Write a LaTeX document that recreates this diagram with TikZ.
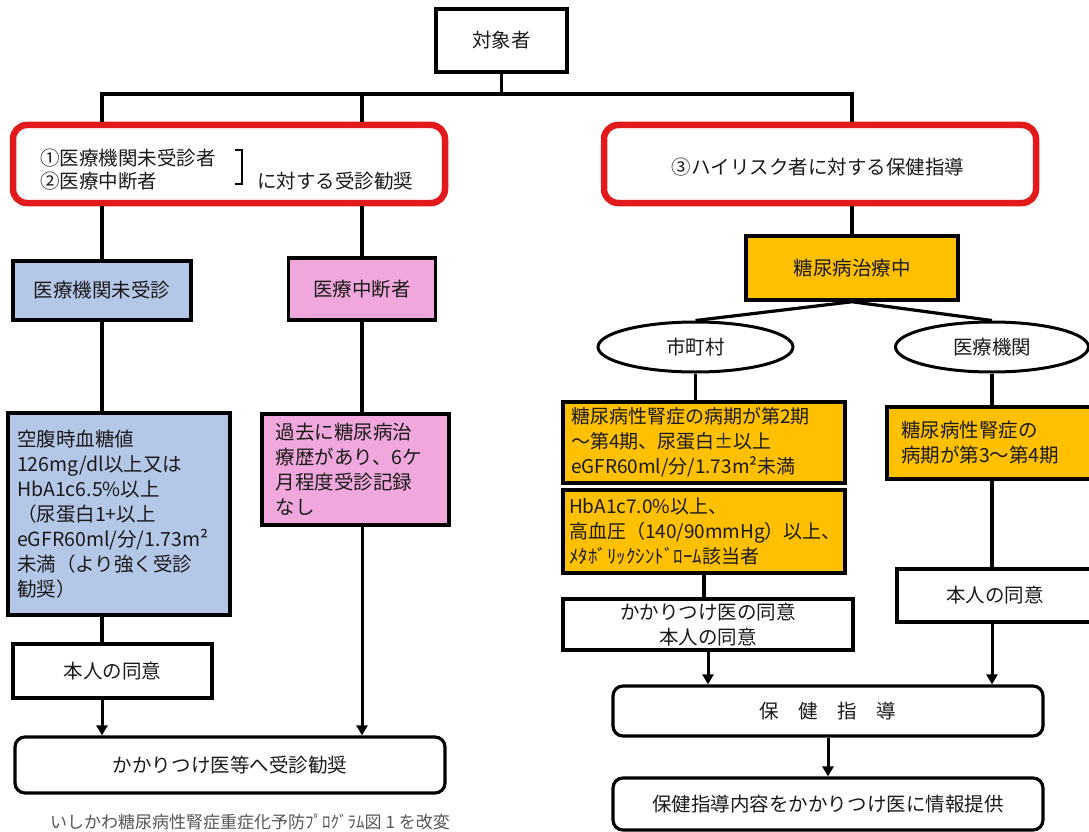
\documentclass[tikz,border=0pt]{standalone}
\usepackage{fontspec}
\setmainfont{Noto Sans CJK JP}
\usetikzlibrary{shapes.geometric,arrows.meta}
\definecolor{redb}{HTML}{E31A1C}
\definecolor{blueb}{HTML}{B4C7E7}
\definecolor{pinkb}{HTML}{F0A8DC}
\definecolor{orangeb}{HTML}{FFC000}
\definecolor{capgray}{HTML}{555555}
\definecolor{txt}{HTML}{1A1A1A}
\begin{document}
\begin{tikzpicture}[x=1pt,y=-1pt,
  every node/.style={font=\fontsize{19.5}{25}\selectfont, text=txt, inner sep=0pt},
  sqbox/.style={draw=black, line width=3.5pt, rectangle},
  redbox/.style={draw=redb, line width=6.5pt, rounded corners=14pt, fill=white, rectangle},
  rndbox/.style={draw=black, line width=3.2pt, rounded corners=10pt, fill=white, rectangle},
  ell/.style={draw=black, line width=3pt, ellipse, fill=white},
  conn/.style={line width=3.2pt, draw=black},
  arr/.style={line width=3pt, draw=black, -{Triangle[length=10pt,width=11pt]}},
  smallfont/.style={font=\fontsize{19}{25}\selectfont}
]
\useasboundingbox[fill=white] (0,0) rectangle (1089,832);

% nodes
\node[sqbox, fill=white, minimum width=131pt, minimum height=63pt] (taisho) at (501.5,40.5) {対象者};

\node[redbox, minimum width=432pt, minimum height=78pt] (redL) at (229,164) {};
\node[anchor=west] (rl1) at (40,158) {①医療機関未受診者};
\node[anchor=west] (rl2) at (40,181) {②医療中断者};
\node[anchor=west] (rl3) at (257,181) {に対する受診勧奨};
\draw[line width=1.2pt] (235,150) -- (242,150) -- (242,184) -- (235,184);

\node[redbox, minimum width=432pt, minimum height=78pt] (redR) at (820,164) {};
\node (rr) at (818,167) {③ハイリスク者に対する保健指導};

\node[sqbox, fill=blueb, minimum width=178pt, minimum height=59pt] (blue1) at (102,290.5) {医療機関未受診};
\node[sqbox, fill=pinkb, minimum width=147pt, minimum height=62pt] (pink1) at (362,289) {医療中断者};

\node[sqbox, fill=blueb, minimum width=222pt, minimum height=202pt, align=left, text width=204pt] (blue2) at (119,514)
  {空腹時血糖値\\126mg/dl以上又は\\HbA1c6.5\%以上\\（尿蛋白1+以上\\eGFR60ml/分/1.73m²\\未満（より強く受診\\勧奨）};
\node[sqbox, fill=pinkb, minimum width=187pt, minimum height=111pt, align=left, text width=160pt] (pink2) at (355.5,469.5)
  {過去に糖尿病治\\療歴があり、6ケ\\月程度受診記録\\なし};

\node[sqbox, fill=white, minimum width=199pt, minimum height=54pt] (honninL) at (112.5,671) {本人の同意};
\node[rndbox, minimum width=430pt, minimum height=56pt] (kanshou) at (230,765) {かかりつけ医等へ受診勧奨};

\node[sqbox, fill=orangeb, minimum width=212pt, minimum height=64pt] (tochu) at (852,268) {糖尿病治療中};
\node[ell, minimum width=195pt, minimum height=50pt] (ellL) at (695.5,347) {市町村};
\node[ell, minimum width=193pt, minimum height=50pt] (ellR) at (992,347) {医療機関};

\node[sqbox, fill=orangeb, minimum width=282pt, minimum height=81pt, align=left, text width=266pt, smallfont] (or1) at (704,442.5)
  {糖尿病性腎症の病期が第2期\\～第4期、尿蛋白±以上\\eGFR60ml/分/1.73m²未満};
\node[sqbox, fill=orangeb, minimum width=282pt, minimum height=83pt, align=left, text width=270pt, smallfont] (or2) at (704,531.5)
  {HbA1c7.0\%以上、\\高血圧（140/90mmHg）以上、\\ﾒﾀﾎﾞﾘｯｸｼﾝﾄﾞﾛｰﾑ該当者};
\node[sqbox, fill=orangeb, minimum width=212pt, minimum height=72pt, align=left, text width=184pt] (orR) at (993,443)
  {糖尿病性腎症の\\病期が第3～第4期};

\node[sqbox, fill=white, minimum width=290pt, minimum height=51pt, align=center] (kakari) at (708,624.5) {かかりつけ医の同意\\本人の同意};
\node[sqbox, fill=white, minimum width=196pt, minimum height=53pt] (honninR) at (995,595.5) {本人の同意};

\node[rndbox, minimum width=430pt, minimum height=50pt] (hoken) at (828,711) {保\hspace{1em}健\hspace{1em}指\hspace{1em}導};
\node[rndbox, minimum width=430pt, minimum height=52pt] (teikyo) at (828,804) {保健指導内容をかかりつけ医に情報提供};

\node[text=capgray, font=\fontsize{17}{20}\selectfont] (caption) at (250,822) {いしかわ糖尿病性腎症重症化予防ﾌﾟﾛｸﾞﾗﾑ図 1 を改変};

% connectors
\coordinate (jT) at (501.5,94);
\coordinate (jL) at (102,94);
\coordinate (jM) at (362,94);
\coordinate (jR) at (852,94);
\draw[conn] (taisho.south) -- (jT);
\draw[conn] ([xshift=-1.6pt]jL) -- ([xshift=1.6pt]jR);
\draw[conn] (jL) -- (jL |- redL.north);
\draw[conn] (jM) -- (jM |- redL.north);
\draw[conn] (jR) -- (jR |- redR.north);

\draw[conn] (blue1.north |- redL.south) -- (blue1.north);
\draw[conn] (pink1.north |- redL.south) -- (pink1.north);
\draw[conn] (blue1.south) -- (blue1.south |- blue2.north);
\draw[conn] (pink1.south) -- (pink1.south |- pink2.north);
\draw[conn] (blue1.south |- blue2.south) -- (blue1.south |- honninL.north);
\draw[arr] ([yshift=4pt]blue1.south |- honninL.south) -- (blue1.south |- kanshou.north);
\draw[arr] (pink1.south |- pink2.south) -- (pink1.south |- kanshou.north);

\draw[conn] (tochu.north |- redR.south) -- (tochu.north);
\draw[conn] (tochu.south) -- (ellL.north);
\draw[conn] (tochu.south) -- (ellR.north);
\draw[conn] (ellL.south) -- (ellL.south |- or1.north);
\draw[conn] (or2.south) -- (or2.south |- kakari.north);
\draw[arr] (kakari.south) -- (kakari.south |- hoken.north);
\draw[conn] (ellR.south) -- (ellR.south |- orR.north);
\draw[conn] (ellR.south |- orR.south) -- (ellR.south |- honninR.north);
\draw[arr] (ellR.south |- honninR.south) -- (ellR.south |- hoken.north);
\draw[arr] (hoken.south) -- (teikyo.north);
\end{tikzpicture}
\end{document}
